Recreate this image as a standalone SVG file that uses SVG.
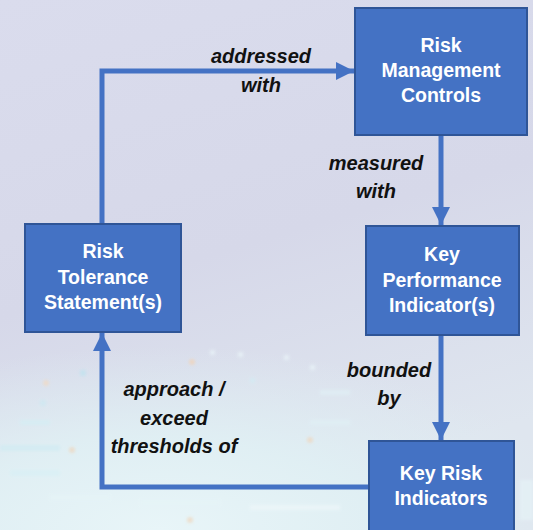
<svg xmlns="http://www.w3.org/2000/svg" width="533" height="530" viewBox="0 0 533 530">
<defs>
<linearGradient id="bg" x1="0" y1="0" x2="0.3" y2="1">
<stop offset="0" stop-color="#dadced"/>
<stop offset="0.55" stop-color="#d6d8e9"/>
<stop offset="1" stop-color="#dfe6ef"/>
</linearGradient>
<radialGradient id="glow" cx="0.3" cy="1" r="0.8">
<stop offset="0" stop-color="#e8f5f8" stop-opacity="1"/>
<stop offset="0.5" stop-color="#e0f0f4" stop-opacity="0.9"/>
<stop offset="1" stop-color="#dfeef3" stop-opacity="0"/>
</radialGradient>
<filter id="blur" x="-50%" y="-50%" width="200%" height="200%"><feGaussianBlur stdDeviation="1.5"/></filter>
<marker id="ah" viewBox="0 0 10 10" refX="10" refY="5" markerWidth="3.6" markerHeight="3.6" markerUnits="strokeWidth" orient="auto">
<path d="M0,0 L10,5 L0,10 Z" fill="#4472c4"/>
</marker>
<style>
.box{fill:#4472c4;stroke:#2f5597;stroke-width:2}
.nt{font-family:"Liberation Sans",Arial,sans-serif;font-weight:bold;font-size:19.5px;fill:#ffffff;text-anchor:middle}
.lb{font-family:"Liberation Sans",Arial,sans-serif;font-weight:bold;font-style:italic;font-size:20px;fill:#111111;text-anchor:middle}
.cn{fill:none;stroke:#4472c4;stroke-width:5}
</style>
</defs>
<rect width="533" height="530" fill="url(#bg)"/>
<rect x="0" y="300" width="533" height="230" fill="url(#glow)"/>
<g filter="url(#blur)" opacity="0.7">
<rect x="40" y="400" width="6" height="6" fill="#cde9f2"/>
<rect x="80" y="370" width="6" height="6" fill="#bfe3ef"/>
<circle cx="46" cy="383" r="3" fill="#f3d9c0"/>
<circle cx="192" cy="362" r="3" fill="#f3d2b4"/>
<rect x="210" y="350" width="5" height="5" fill="#e9f4f8"/>
<rect x="238" y="352" width="5" height="5" fill="#e9f4f8"/>
<rect x="284" y="355" width="5" height="5" fill="#e9f4f8"/>
<rect x="310" y="365" width="5" height="5" fill="#e9f4f8"/>
<rect x="250" y="378" width="5" height="5" fill="#d3ecf4"/>
<rect x="20" y="420" width="30" height="5" fill="#d4eef4"/>
<rect x="0" y="445" width="60" height="6" fill="#d0ebf3"/>
<rect x="10" y="470" width="50" height="6" fill="#d8f0f5"/>
<rect x="50" y="495" width="60" height="5" fill="#e6f4f7"/>
<rect x="140" y="500" width="80" height="5" fill="#e6f4f7"/>
<rect x="250" y="505" width="90" height="5" fill="#eef7f9"/>
<circle cx="190" cy="520" r="3" fill="#f0d6bc"/>
<circle cx="72" cy="450" r="3" fill="#f0d6bc"/>
<circle cx="310" cy="440" r="3" fill="#f0d6bc"/>
<rect x="320" y="390" width="30" height="5" fill="#e0f0f5"/>
<rect x="310" y="420" width="40" height="5" fill="#e0f0f5"/>
<rect x="520" y="480" width="13" height="40" fill="#e6f3f7"/>
</g>
<g id="connectors">
<path class="cn" d="M102,223 V71 H354" marker-end="url(#ah)"/>
<path class="cn" d="M441,135 V225" marker-end="url(#ah)"/>
<path class="cn" d="M441,335 V440" marker-end="url(#ah)"/>
<path class="cn" d="M369,487 H102 V333" marker-end="url(#ah)"/>
</g>
<g id="labels">
<text class="lb" x="261" y="63">addressed</text>
<text class="lb" x="261" y="92">with</text>
<text class="lb" x="376" y="170">measured</text>
<text class="lb" x="376" y="198">with</text>
<text class="lb" x="389" y="377">bounded</text>
<text class="lb" x="389" y="405">by</text>
<text class="lb" x="174" y="396">approach /</text>
<text class="lb" x="174" y="425">exceed</text>
<text class="lb" x="174" y="453">thresholds of</text>
</g>
<g id="rmc">
<rect class="box" x="355" y="8" width="172" height="127"/>
<text class="nt" x="441" y="52">Risk</text>
<text class="nt" x="441" y="77">Management</text>
<text class="nt" x="441" y="102">Controls</text>
</g>
<g id="rts">
<rect class="box" x="25" y="224" width="156" height="108"/>
<text class="nt" x="103" y="258">Risk</text>
<text class="nt" x="103" y="284">Tolerance</text>
<text class="nt" x="103" y="309">Statement(s)</text>
</g>
<g id="kpi">
<rect class="box" x="366" y="226" width="153" height="109"/>
<text class="nt" x="442" y="261">Key</text>
<text class="nt" x="442" y="287">Performance</text>
<text class="nt" x="442" y="312">Indicator(s)</text>
</g>
<g id="kri">
<rect class="box" x="369" y="441" width="145" height="95"/>
<text class="nt" x="441" y="480">Key Risk</text>
<text class="nt" x="441" y="505">Indicators</text>
</g>
</svg>
